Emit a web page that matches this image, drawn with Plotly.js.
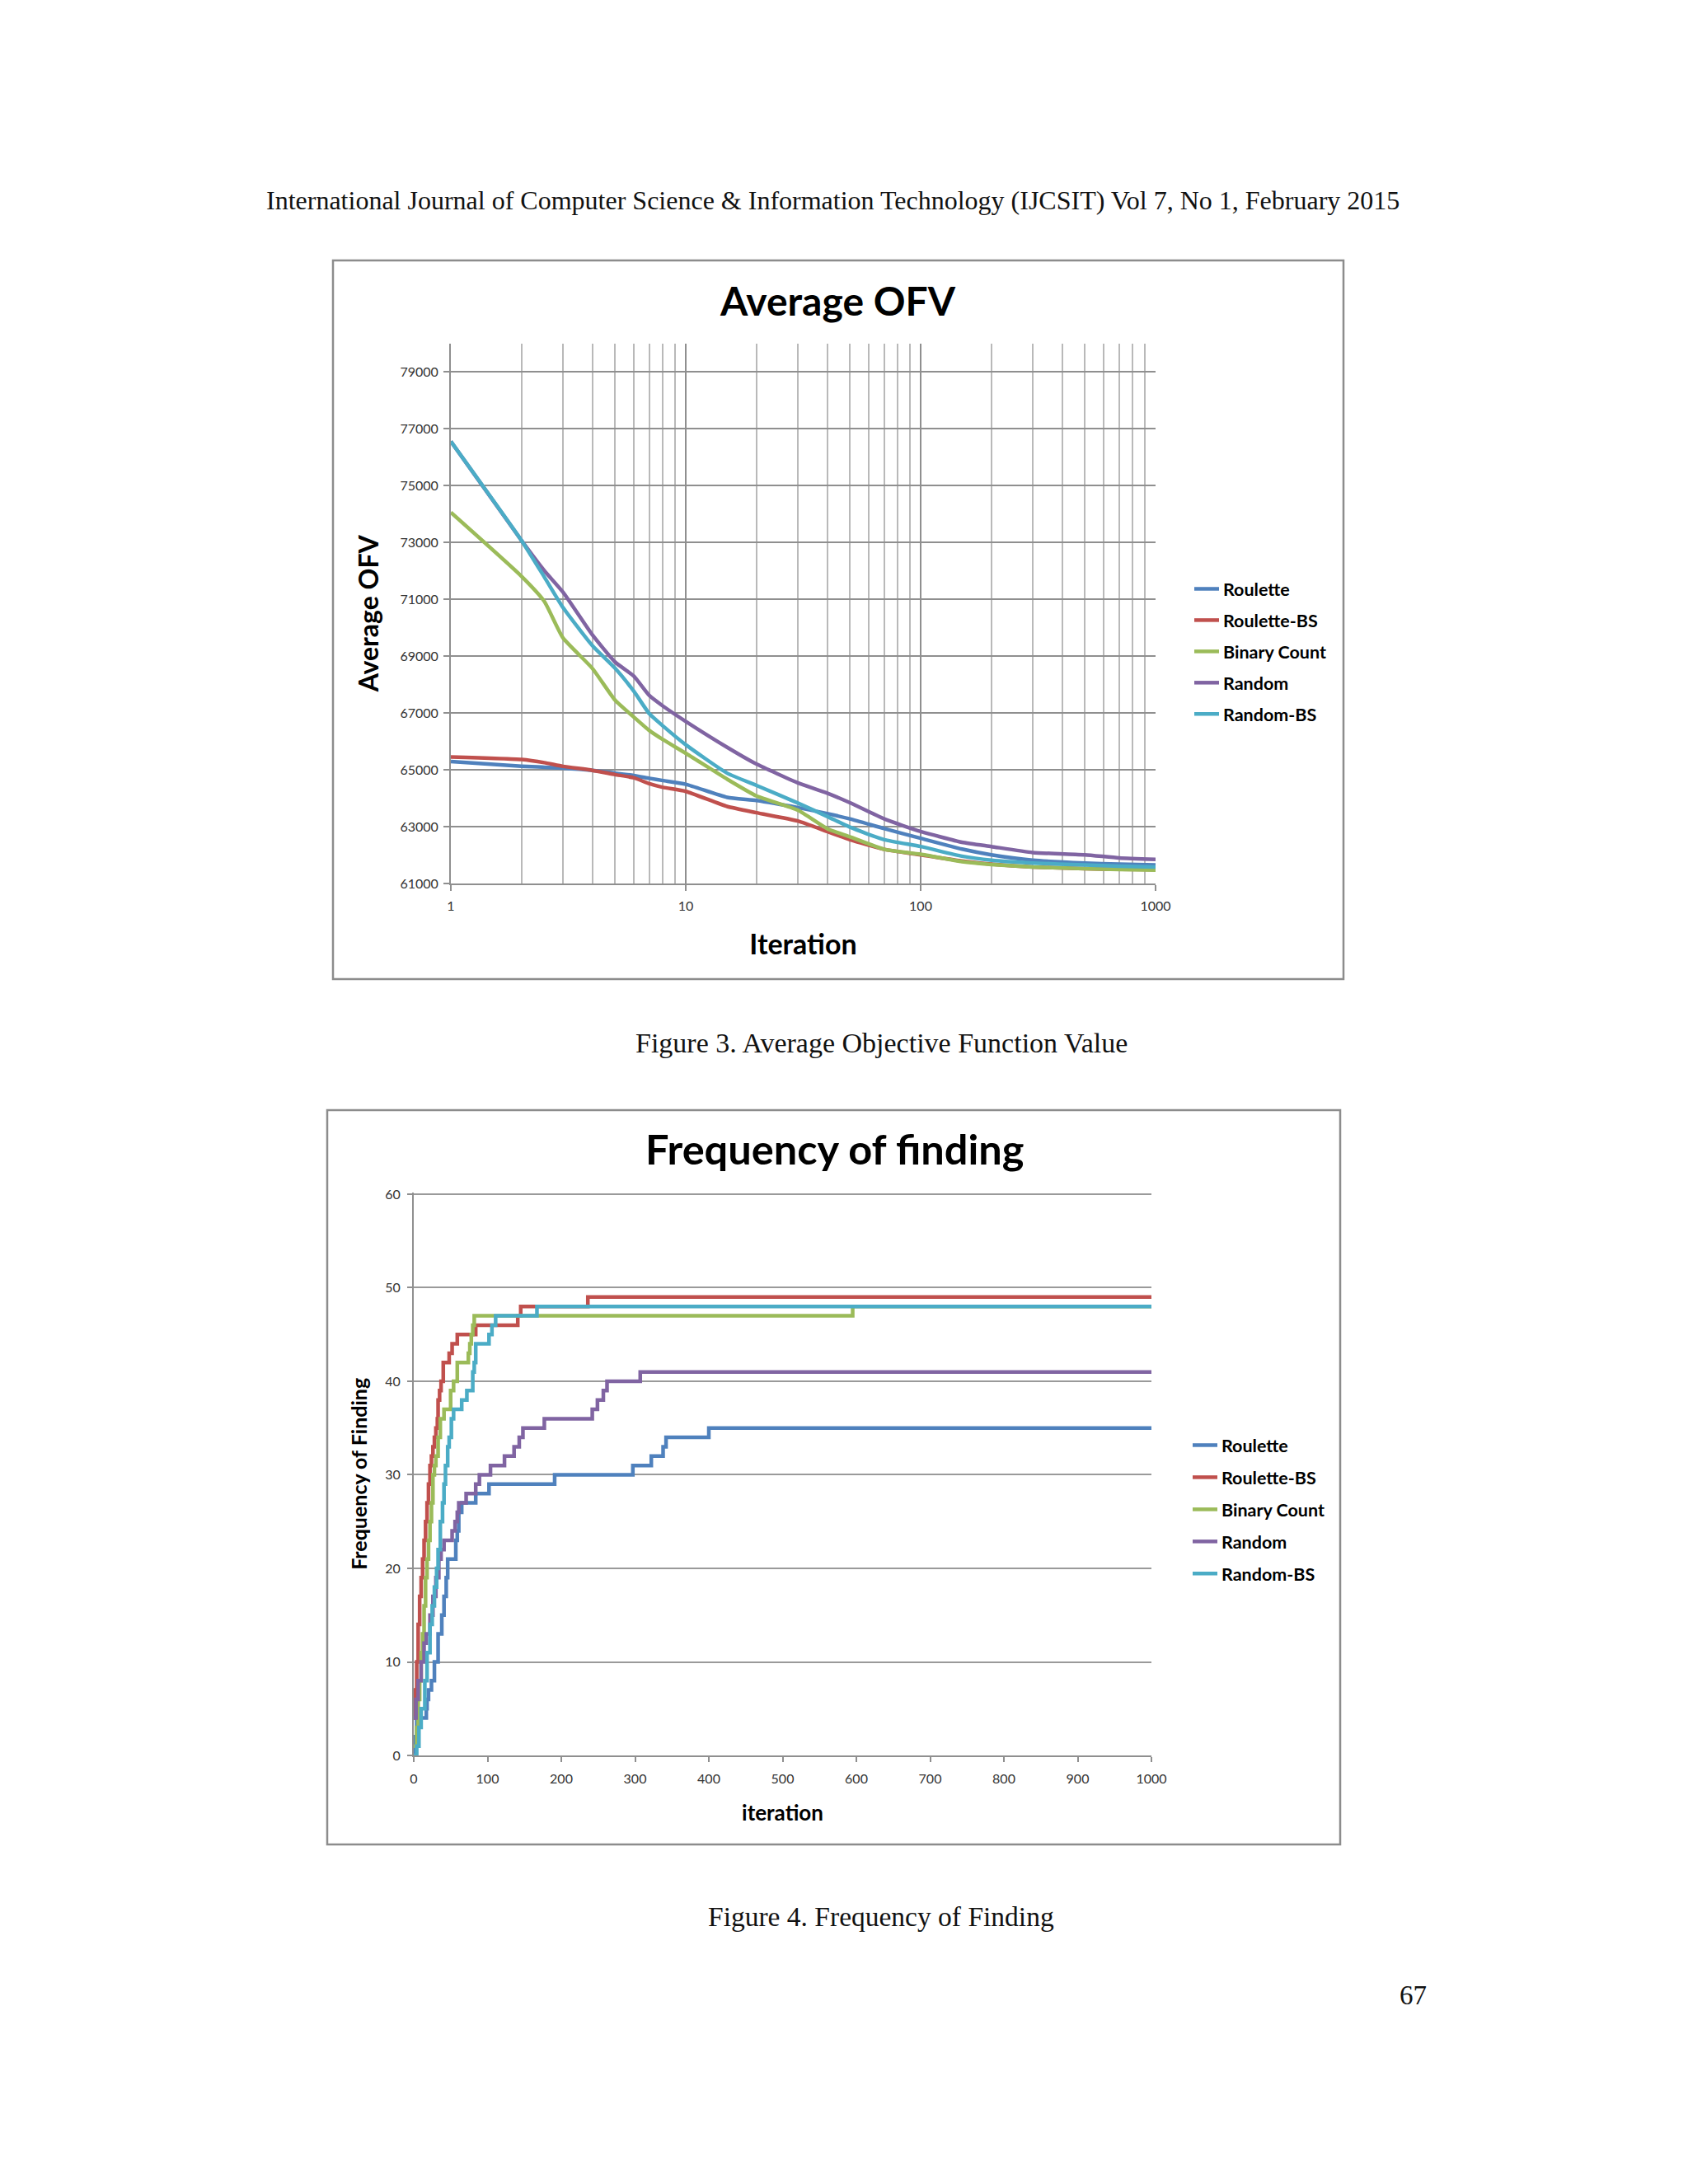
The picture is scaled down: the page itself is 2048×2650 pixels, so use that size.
<!DOCTYPE html>
<html>
<head>
<meta charset="utf-8">
<script src="https://cdn.plot.ly/plotly-3.0.1.min.js"></script>
<style>
  html, body { margin: 0; padding: 0; background: #ffffff; }
  #page { width: 2048px; height: 2650px; }
</style>
</head>
<body>
<div id="page"></div>
<script>
// ---------- Figure 3 data: Average OFV vs iteration (log x) ----------
const ofvIterations = [1, 2, 2.5, 3, 4, 5, 6, 7, 8, 10, 15, 20, 30, 40, 50, 70, 100, 150, 200, 300, 500, 700, 1000];
const ofvRoulette   = [65290, 65120, 65090, 65060, 64980, 64880, 64800, 64700, 64620, 64490, 64030, 63920, 63670, 63460, 63270, 62930, 62590, 62210, 62010, 61820, 61720, 61680, 61650];
const ofvRouletteBS = [65450, 65360, 65250, 65120, 64980, 64830, 64720, 64510, 64380, 64240, 63710, 63490, 63200, 62830, 62540, 62200, 62010, 61790, 61680, 61580, 61520, 61500, 61490];
const ofvBinary     = [74050, 71800, 70920, 69640, 68570, 67450, 66860, 66380, 66060, 65580, 64670, 64080, 63580, 62930, 62640, 62200, 62030, 61770, 61670, 61580, 61520, 61490, 61470];
const ofvRandom     = [76550, 73060, 72000, 71250, 69750, 68790, 68300, 67610, 67240, 66700, 65790, 65200, 64540, 64180, 63840, 63270, 62830, 62450, 62300, 62090, 62010, 61900, 61850];
const ofvRandomBS   = [76550, 73060, 71780, 70710, 69370, 68570, 67770, 66970, 66540, 65880, 64880, 64450, 63830, 63360, 62980, 62540, 62300, 61960, 61820, 61720, 61650, 61610, 61580];

const ofvYTicks = [61000, 63000, 65000, 67000, 69000, 71000, 73000, 75000, 77000, 79000];
const ofvXTicks = [1, 10, 100, 1000];
const ofvXMinor = [2, 3, 4, 5, 6, 7, 8, 9, 20, 30, 40, 50, 60, 70, 80, 90, 200, 300, 400, 500, 600, 700, 800, 900];

// ---------- Figure 4 data: Frequency of finding (step series) ----------
const freqRouletteX   = [0, 2, 4, 17, 18, 20, 24, 28, 33, 38, 41, 44, 46, 57, 59, 61, 65, 84, 102, 191, 297, 322, 338, 342, 400, 1000];
const freqRouletteY   = [0, 2, 4, 5, 6, 7, 8, 10, 13, 15, 17, 19, 21, 23, 24, 26, 27, 28, 29, 30, 31, 32, 33, 34, 35, 35];
const freqRouletteBSX = [0, 2, 4, 6, 8, 10, 12, 14, 16, 18, 20, 22, 24, 26, 28, 30, 32, 33, 35, 37, 40, 48, 52, 59, 84, 141, 145, 236, 1000];
const freqRouletteBSY = [4, 7, 10, 14, 17, 19, 21, 23, 25, 27, 29, 31, 32, 33, 34, 35, 36, 38, 39, 40, 42, 43, 44, 45, 46, 47, 48, 49, 49];
const freqBinaryX     = [0, 4, 6, 8, 10, 12, 14, 16, 18, 20, 22, 24, 26, 28, 30, 33, 36, 41, 50, 54, 59, 74, 76, 78, 80, 82, 595, 1000];
const freqBinaryY     = [1, 3, 6, 8, 11, 13, 16, 19, 21, 23, 25, 27, 30, 31, 32, 34, 36, 37, 39, 40, 42, 43, 44, 45, 46, 47, 48, 48];
const freqRandomX     = [0, 3, 6, 10, 14, 17, 22, 26, 30, 34, 37, 41, 52, 56, 59, 61, 71, 84, 89, 104, 123, 136, 143, 148, 177, 242, 249, 257, 262, 307, 1000];
const freqRandomY     = [4, 6, 8, 10, 12, 13, 15, 17, 19, 21, 22, 23, 24, 25, 26, 27, 28, 29, 30, 31, 32, 33, 34, 35, 36, 37, 38, 39, 40, 41, 41];
const freqRandomBSX   = [0, 4, 7, 10, 15, 18, 22, 25, 28, 31, 33, 36, 39, 41, 43, 46, 48, 51, 54, 65, 72, 80, 82, 84, 102, 106, 111, 167, 1000];
const freqRandomBSY   = [0, 1, 3, 5, 8, 11, 14, 16, 18, 20, 22, 25, 27, 29, 31, 33, 34, 36, 37, 38, 39, 41, 42, 44, 45, 46, 47, 48, 48];
const freqYTicks = [0, 10, 20, 30, 40, 50, 60];

const seriesNames = ["Roulette", "Roulette-BS", "Binary Count", "Random", "Random-BS"];
const seriesColors = ["#4F81BD", "#C0504D", "#9BBB59", "#8064A2", "#4BACC6"];

// ---------- page geometry helpers (pixel -> paper) ----------
const W = 2048, H = 2650;
const px = v => v / W;
const py = v => 1 - v / H;

const ofvSeries = [ofvRoulette, ofvRouletteBS, ofvBinary, ofvRandom, ofvRandomBS];
const freqSeries = [
  [freqRouletteX, freqRouletteY],
  [freqRouletteBSX, freqRouletteBSY],
  [freqBinaryX, freqBinaryY],
  [freqRandomX, freqRandomY],
  [freqRandomBSX, freqRandomBSY]
];

const traces = [];
seriesNames.forEach((name, i) => {
  traces.push({
    type: "scatter", mode: "lines",
    x: ofvIterations, y: ofvSeries[i],
    name: name, legend: "legend", legendgroup: "a" + i,
    xaxis: "x", yaxis: "y",
    line: { color: seriesColors[i], width: 4.5, shape: "spline", smoothing: 0.5 },
    hoverinfo: "skip"
  });
});
seriesNames.forEach((name, i) => {
  traces.push({
    type: "scatter", mode: "lines",
    x: freqSeries[i][0], y: freqSeries[i][1],
    name: name, legend: "legend2", legendgroup: "b" + i,
    xaxis: "x2", yaxis: "y2",
    line: { color: seriesColors[i], width: 4.5, shape: "hv" },
    hoverinfo: "skip"
  });
});

const gridMajor = "#8f8f8f";
const gridMinor = "#b9b9b9";
const tickFont = { family: "Lato, 'Open Sans', sans-serif", size: 16, color: "#333333" };
const boldFont = (s) => ({ family: "Lato, 'Open Sans', sans-serif", size: s, color: "#000000", weight: "bold" });
const serif = (s) => ({ family: "'Liberation Serif', 'DejaVu Serif', serif", size: s, color: "#111111" });

const layout = {
  width: W, height: H,
  margin: { l: 0, r: 0, t: 0, b: 0, pad: 0 },
  paper_bgcolor: "#ffffff",
  plot_bgcolor: "rgba(0,0,0,0)",
  showlegend: true,
  xaxis: {
    type: "log", range: [0, 3], domain: [px(547), px(1402)], anchor: "y",
    tickvals: ofvXTicks, ticktext: ofvXTicks.map(String),
    ticks: "outside", ticklen: 7, tickwidth: 2, tickcolor: gridMajor, ticklabelstandoff: 5,
    showline: true, linecolor: gridMajor, linewidth: 2,
    showgrid: true, gridcolor: gridMajor, gridwidth: 2,
    minor: { tickvals: ofvXMinor, showgrid: true, gridcolor: gridMinor, gridwidth: 2, ticks: "" },
    zeroline: false, tickfont: tickFont, automargin: false,
    title: { text: "Iteration", font: boldFont(34), standoff: 27 }
  },
  yaxis: {
    range: [61000, 80000], domain: [py(1072), py(416.5)], anchor: "x",
    tickvals: ofvYTicks, ticktext: ofvYTicks.map(String),
    ticks: "outside", ticklen: 7, tickwidth: 2, tickcolor: gridMajor, ticklabelstandoff: 3,
    showline: true, linecolor: gridMajor, linewidth: 2,
    showgrid: true, gridcolor: gridMajor, gridwidth: 2,
    zeroline: false, tickfont: tickFont, automargin: false,
    title: { text: "Average OFV", font: boldFont(32), standoff: 16 }
  },
  xaxis2: {
    range: [0, 1000], domain: [px(502), px(1397)], anchor: "y2",
    dtick: 100, tick0: 0,
    ticks: "outside", ticklen: 6, tickwidth: 2, tickcolor: gridMajor, ticklabelstandoff: 7,
    showline: true, linecolor: gridMajor, linewidth: 2,
    showgrid: false, zeroline: false, tickfont: tickFont, automargin: false,
    title: { text: "iteration", font: boldFont(26), standoff: 25 }
  },
  yaxis2: {
    range: [0, 60.2], domain: [py(2130), py(1446.7)], anchor: "x2",
    tickvals: freqYTicks, ticktext: freqYTicks.map(String),
    ticks: "outside", ticklen: 6, tickwidth: 2, tickcolor: gridMajor, ticklabelstandoff: 5,
    showline: true, linecolor: gridMajor, linewidth: 2,
    showgrid: true, gridcolor: "#9a9a9a", gridwidth: 2,
    zeroline: false, tickfont: tickFont, automargin: false,
    title: { text: "Frequency of Finding", font: boldFont(25), standoff: 14 }
  },
  legend: {
    x: px(1444), xanchor: "left", y: py(694), yanchor: "top",
    bgcolor: "rgba(0,0,0,0)", borderwidth: 0,
    font: boldFont(21.5), tracegroupgap: 7, traceorder: "grouped"
  },
  legend2: {
    x: px(1442), xanchor: "left", y: py(1733), yanchor: "top",
    bgcolor: "rgba(0,0,0,0)", borderwidth: 0,
    font: boldFont(21.5), tracegroupgap: 8, traceorder: "grouped"
  },
  shapes: [
    { type: "rect", xref: "paper", yref: "paper", x0: px(404), x1: px(1630), y0: py(1188), y1: py(316),
      line: { color: "#8c8c8c", width: 2.5 }, fillcolor: "rgba(0,0,0,0)", layer: "below" },
    { type: "rect", xref: "paper", yref: "paper", x0: px(397), x1: px(1626), y0: py(2238), y1: py(1347),
      line: { color: "#8c8c8c", width: 2.5 }, fillcolor: "rgba(0,0,0,0)", layer: "below" }
  ],
  annotations: [
    { text: "International Journal of Computer Science &amp; Information Technology (IJCSIT) Vol 7, No 1, February 2015",
      xref: "paper", yref: "paper", x: px(321), xanchor: "left", y: py(243), yanchor: "middle",
      showarrow: false, font: serif(32) },
    { text: "Average OFV", xref: "paper", yref: "paper", x: px(1016), xanchor: "center", y: py(364), yanchor: "middle",
      showarrow: false, font: boldFont(48) },
    { text: "Figure 3. Average Objective Function Value", xref: "paper", yref: "paper",
      x: px(1069), xanchor: "center", y: py(1266), yanchor: "middle", showarrow: false, font: serif(34) },
    { text: "Frequency of finding", xref: "paper", yref: "paper", x: px(1012), xanchor: "center", y: py(1393), yanchor: "middle",
      showarrow: false, font: boldFont(50.5) },
    { text: "Figure 4. Frequency of Finding", xref: "paper", yref: "paper",
      x: px(1069), xanchor: "center", y: py(2325), yanchor: "middle", showarrow: false, font: serif(33.5) },
    { text: "67", xref: "paper", yref: "paper", x: px(1714), xanchor: "center", y: py(2421), yanchor: "middle",
      showarrow: false, font: serif(33) }
  ]
};

Plotly.newPlot("page", traces, layout, { staticPlot: true, displayModeBar: false });
</script>
</body>
</html>
